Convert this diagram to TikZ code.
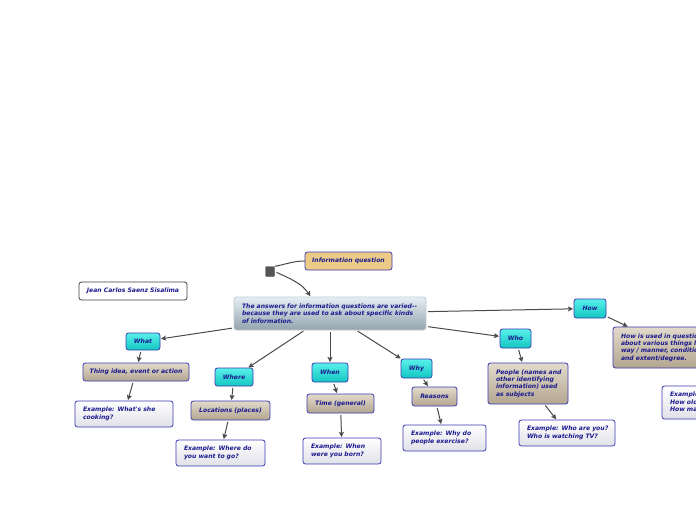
\documentclass[tikz,border=0pt]{standalone}
\usepackage{fontspec}
\newfontfamily\mf{DejaVu Sans}
\usetikzlibrary{arrows.meta}
\definecolor{navy}{HTML}{1A1A8E}
\definecolor{bord}{HTML}{3B3BB0}
\definecolor{cyA}{HTML}{5AF0EA}
\definecolor{cyB}{HTML}{12C6C2}
\definecolor{tnA}{HTML}{E2DACB}
\definecolor{tnB}{HTML}{B3A690}
\definecolor{whB}{HTML}{E0E0E8}
\definecolor{infoc}{HTML}{ECCB88}
\definecolor{mnA}{HTML}{E6EEF4}
\definecolor{mnB}{HTML}{93A3AD}
\definecolor{mnbord}{HTML}{C4CED6}
\definecolor{ln}{HTML}{4A4A4A}
\definecolor{sqc}{HTML}{555555}
\tikzset{
  base/.style={rounded corners=2.5pt, draw=bord, line width=0.8pt,
    font=\mf\bfseries\itshape\fontsize{6.1}{7.4}\selectfont, text=navy,
    inner sep=1pt, outer sep=0pt},
  cyanb/.style={base, top color=cyA, bottom color=cyB},
  tanb/.style={base, top color=tnA, bottom color=tnB},
  whiteb/.style={base, top color=white, bottom color=whB},
  sz/.style 2 args={minimum width=#1pt, minimum height=#2pt},
  ml/.style={text width=#1pt, align=left, inner xsep=8pt},
  arr/.style={draw=ln, line width=1pt, -{Stealth[length=5pt,width=5pt,inset=1pt]},
    shorten >=1pt, shorten <=2pt},
}
\begin{document}
\begin{tikzpicture}[x=1pt,y=-1pt]
\useasboundingbox (0,0) rectangle (696,520);
\fill[white] (0,0) rectangle (696,520);
\clip (0,0) rectangle (696,520);

% central and title nodes
\node[base, fill=infoc, sz={87}{18}] (info) at (348.5,261) {Information question};
\node[draw=sqc, fill=sqc, rounded corners=1pt, minimum width=9pt, minimum height=10pt, inner sep=0pt] (sq) at (270,271.5) {};
\node[base, draw=mnbord, top color=mnA, bottom color=mnB, sz={192}{33}, ml=176] (main) at (330,313.5)
  {\mbox{The answers for information questions are varied--}\\\mbox{because they are used to ask about specific kinds}\\\mbox{of information.}};
\node[base, draw=black!75, fill=white, sz={108}{18}] (jean) at (133,291) {Jean Carlos Saenz Sisalima};

% question words
\node[cyanb, sz={34}{17}] (what) at (143,341.5) {What};
\node[cyanb, sz={38}{18}] (where) at (234,377) {Where};
\node[cyanb, sz={36}{19}] (when) at (330,372.5) {When};
\node[cyanb, sz={31}{19}] (why) at (416.5,368.5) {Why};
\node[cyanb, sz={31}{19}] (who) at (515.5,338.5) {Who};
\node[cyanb, sz={32}{19}] (how) at (590,308.5) {How};

% meanings
\node[tanb, sz={106}{18}] (thing) at (136,372) {Thing idea, event or action};
\node[tanb, sz={79}{19}] (loc) at (230.5,410.5) {Locations (places)};
\node[tanb, sz={67}{19}] (time) at (340.5,403.5) {Time (general)};
\node[tanb, sz={45}{19}] (reasons) at (434.5,396.5) {Reasons};
\node[tanb, sz={80}{41}, ml=64] (people) at (528,383.5)
  {\mbox{People (names and}\\\mbox{other identifying}\\\mbox{information) used}\\\mbox{as subjects}};
\node[tanb, sz={117}{41}, ml=101] (howis) at (671.5,347.5)
  {\mbox{How is used in questions}\\\mbox{about various things like}\\\mbox{way / manner, condition}\\\mbox{and extent/degree.}};

% examples
\node[whiteb, sz={98}{26}, ml=82] (exwhat) at (124,414) {\mbox{Example: What's she}\\\mbox{cooking?}};
\node[whiteb, sz={89}{26}, ml=73] (exwhere) at (220.5,453) {\mbox{Example: Where do}\\\mbox{you want to go?}};
\node[whiteb, sz={78}{26}, ml=62] (exwhen) at (342,451) {\mbox{Example: When}\\\mbox{were you born?}};
\node[whiteb, sz={83}{26}, ml=67] (exwhy) at (444.5,438) {\mbox{Example: Why do}\\\mbox{people exercise?}};
\node[whiteb, sz={96}{26}, ml=80] (exwho) at (567,433) {\mbox{Example: Who are you?}\\\mbox{Who is watching TV?}};
\node[whiteb, sz={70}{33}, ml=54] (exhow) at (697,402.5) {\mbox{Example: How are you?}\\\mbox{How old are you?}\\\mbox{How many?}};

% connectors
\draw[draw=ln, line width=1pt] (sq.north east) to[out=10,in=180] (info.west);
\draw[arr] (sq.east) to[out=-25,in=125] (main.139);

\draw[arr] (main) -- (what);
\draw[arr] (main) -- (where);
\draw[arr] (main) -- (when);
\draw[arr] (main) -- (why);
\draw[arr] (main) -- (who);
\draw[arr] (main) -- (how);

\draw[arr] (what) -- (thing);
\draw[arr] (thing) -- (exwhat);
\draw[arr] (where) -- (loc);
\draw[arr] (loc) -- (exwhere);
\draw[arr] (when) -- (time);
\draw[arr] (time) -- (exwhen);
\draw[arr] (why) -- (reasons);
\draw[arr] (reasons) -- (exwhy);
\draw[arr] (who) -- (people);
\draw[arr] (people) -- (exwho);
\draw[arr] (how) -- (howis);
\end{tikzpicture}
\end{document}
